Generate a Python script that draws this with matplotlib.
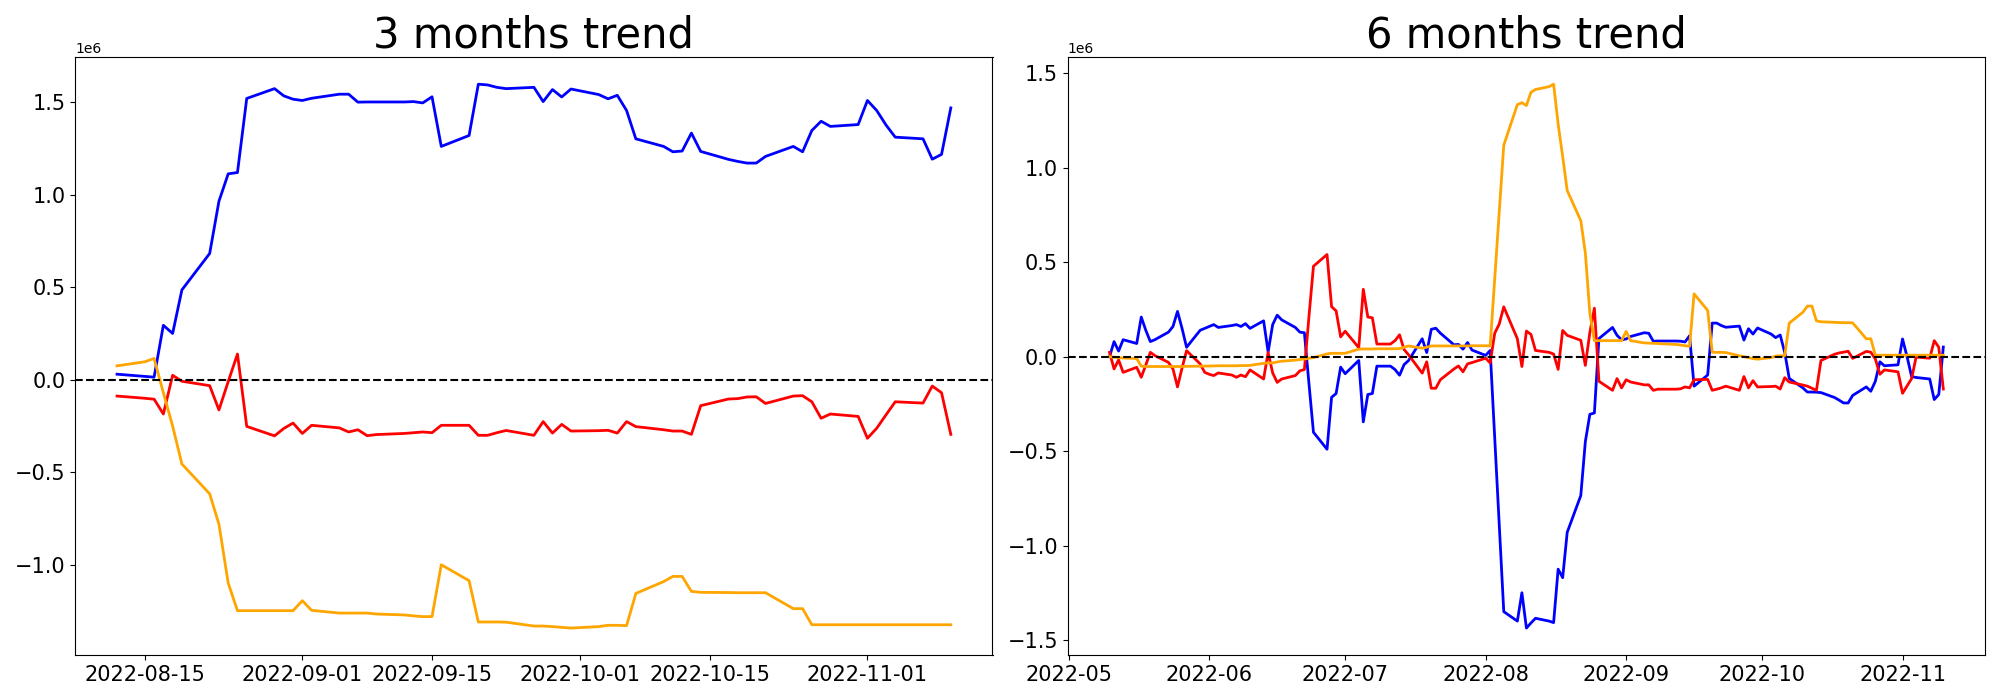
import matplotlib

matplotlib.use("Agg")
import matplotlib.pyplot as plt
import numpy as np
import pandas as pd

TITLE_SIZE = 30
TICK_SIZE = 15
LW = 2

# ---- 3 months window (values in millions), one row per trading week ----
dates_3m = pd.bdate_range("2022-08-12", "2022-11-10")
blue_3m = [
    0.030,
    0.018, 0.014, 0.294, 0.250, 0.485,
    0.682, 0.964, 1.112, 1.119, 1.519,
    1.572, 1.533, 1.515, 1.508, 1.520,
    1.542, 1.542, 1.499, 1.500, 1.500,
    1.500, 1.502, 1.495, 1.528, 1.260,
    1.319, 1.596, 1.592, 1.579, 1.572,
    1.579, 1.502, 1.567, 1.527, 1.570,
    1.540, 1.517, 1.536, 1.454, 1.301,
    1.260, 1.231, 1.235, 1.332, 1.233,
    1.190, 1.179, 1.170, 1.170, 1.206,
    1.260, 1.231, 1.346, 1.396, 1.368,
    1.378, 1.508, 1.454, 1.376, 1.310,
    1.301, 1.191, 1.217, 1.468,
]
red_3m = [
    -0.088,
    -0.100, -0.105, -0.185, 0.024, -0.008,
    -0.032, -0.163, -0.010, 0.139, -0.252,
    -0.303, -0.263, -0.234, -0.290, -0.246,
    -0.260, -0.282, -0.270, -0.302, -0.296,
    -0.290, -0.286, -0.282, -0.286, -0.246,
    -0.246, -0.300, -0.300, -0.286, -0.274,
    -0.300, -0.226, -0.288, -0.241, -0.277,
    -0.275, -0.273, -0.288, -0.226, -0.253,
    -0.270, -0.277, -0.277, -0.295, -0.140,
    -0.104, -0.102, -0.093, -0.092, -0.128,
    -0.088, -0.086, -0.119, -0.208, -0.185,
    -0.198, -0.316, -0.262, -0.190, -0.119,
    -0.126, -0.034, -0.070, -0.295,
]
orange_3m = [
    0.075,
    0.097, 0.115, -0.070, -0.250, -0.455,
    -0.616, -0.780, -1.098, -1.247, -1.247,
    -1.247, -1.247, -1.247, -1.193, -1.245,
    -1.260, -1.260, -1.260, -1.260, -1.265,
    -1.270, -1.275, -1.279, -1.279, -0.999,
    -1.085, -1.308, -1.308, -1.308, -1.309,
    -1.330, -1.330, -1.333, -1.337, -1.341,
    -1.333, -1.326, -1.326, -1.328, -1.154,
    -1.090, -1.062, -1.062, -1.143, -1.148,
    -1.149, -1.150, -1.150, -1.150, -1.150,
    -1.236, -1.236, -1.323, -1.323, -1.323,
    -1.323, -1.323, -1.323, -1.323, -1.323,
    -1.323, -1.323, -1.323, -1.323,
]

# ---- 6 months window (values in millions), one row per trading week ----
dates_6m = pd.bdate_range("2022-05-10", "2022-11-10")
blue_6m = [
    0.000, 0.080, 0.030, 0.090,
    0.070, 0.210, 0.140, 0.080, 0.090,
    0.130, 0.160, 0.240, 0.150, 0.050,
    0.140, 0.150, 0.160, 0.170, 0.155,
    0.165, 0.170, 0.160, 0.175, 0.150,
    0.190, 0.025, 0.170, 0.220, 0.195,
    0.155, 0.130, 0.127, -0.140, -0.400,
    -0.490, -0.215, -0.195, -0.055, -0.090,
    -0.020, -0.345, -0.200, -0.195, -0.050,
    -0.050, -0.068, -0.098, -0.042, -0.020,
    0.095, 0.022, 0.145, 0.151, 0.125,
    0.063, 0.065, 0.040, 0.075, 0.035,
    0.007, 0.033, -0.430, -0.890, -1.350,
    -1.400, -1.250, -1.437, -1.410, -1.385,
    -1.400, -1.408, -1.125, -1.170, -0.930,
    -0.735, -0.450, -0.305, -0.298, 0.096,
    0.155, 0.113, 0.090, 0.094, 0.107,
    0.127, 0.124, 0.082, 0.083, 0.083,
    0.083, 0.082, 0.078, 0.111, -0.156,
    -0.097, 0.178, 0.178, 0.165, 0.156,
    0.162, 0.088, 0.148, 0.120, 0.152,
    0.120, 0.101, 0.115, 0.023, -0.115,
    -0.165, -0.187, -0.187, -0.188, -0.190,
    -0.216, -0.230, -0.245, -0.245, -0.205,
    -0.160, -0.183, -0.130, -0.027, -0.048,
    -0.043, 0.094, 0.000, -0.105, -0.110,
    -0.118, -0.227, -0.200, 0.051,
]
red_6m = [
    0.023, -0.065, -0.017, -0.083,
    -0.056, -0.109, -0.044, 0.023, 0.006,
    -0.030, -0.065, -0.160, -0.060, 0.032,
    -0.038, -0.083, -0.093, -0.100, -0.086,
    -0.097, -0.109, -0.097, -0.106, -0.070,
    -0.118, 0.023, -0.086, -0.136, -0.118,
    -0.100, -0.075, -0.068, 0.210, 0.479,
    0.541, 0.265, 0.243, 0.105, 0.135,
    0.048, 0.357, 0.210, 0.206, 0.067,
    0.067, 0.085, 0.116, 0.038, 0.010,
    -0.087, -0.027, -0.167, -0.167, -0.122,
    -0.065, -0.049, -0.080, -0.038, -0.031,
    -0.008, -0.033, 0.124, 0.173, 0.264,
    0.095, -0.052, 0.136, 0.118, 0.033,
    0.023, 0.014, -0.067, 0.139, 0.113,
    0.087, -0.046, 0.129, 0.257, -0.130,
    -0.178, -0.116, -0.165, -0.122, -0.134,
    -0.149, -0.149, -0.178, -0.172, -0.172,
    -0.172, -0.170, -0.160, -0.165, -0.122,
    -0.120, -0.178, -0.172, -0.165, -0.156,
    -0.178, -0.105, -0.165, -0.127, -0.160,
    -0.158, -0.156, -0.171, -0.111, -0.134,
    -0.150, -0.156, -0.167, -0.178, -0.020,
    0.013, 0.020, 0.024, 0.029, -0.009,
    0.028, 0.024, -0.012, -0.093, -0.070,
    -0.080, -0.194, -0.155, -0.116, -0.002,
    -0.008, 0.085, 0.050, -0.171,
]
orange_6m = [
    0.000, -0.003, -0.005, -0.007,
    -0.010, -0.050, -0.052, -0.052, -0.052,
    -0.052, -0.052, -0.052, -0.052, -0.051,
    -0.050, -0.050, -0.049, -0.049, -0.048,
    -0.048, -0.048, -0.047, -0.047, -0.046,
    -0.035, -0.033, -0.033, -0.028, -0.024,
    -0.018, -0.015, -0.012, -0.008, -0.005,
    0.015, 0.018, 0.018, 0.018, 0.018,
    0.040, 0.041, 0.041, 0.041, 0.042,
    0.042, 0.042, 0.043, 0.050, 0.057,
    0.045, 0.050, 0.057, 0.057, 0.057,
    0.057, 0.057, 0.057, 0.057, 0.058,
    0.058, 0.057, 0.410, 0.770, 1.120,
    1.335, 1.345, 1.330, 1.400, 1.415,
    1.430, 1.443, 1.232, 1.060, 0.880,
    0.720, 0.550, 0.230, 0.085, 0.085,
    0.085, 0.085, 0.085, 0.134, 0.085,
    0.073, 0.072, 0.071, 0.070, 0.068,
    0.065, 0.062, 0.058, 0.055, 0.333,
    0.245, 0.024, 0.023, 0.023, 0.022,
    0.005, 0.000, -0.005, -0.010, -0.013,
    -0.005, 0.003, 0.005, 0.005, 0.178,
    0.235, 0.268, 0.268, 0.190, 0.185,
    0.182, 0.181, 0.180, 0.180, 0.179,
    0.095, 0.095, 0.008, 0.008, 0.008,
    0.008, 0.008, 0.008, 0.008, 0.008,
    0.008, 0.008, 0.008, 0.008,
]


def draw_panel(ax, dates, blue, red, orange, title):
    x = dates.to_pydatetime()
    ax.plot(x, np.array(blue) * 1e6, color="blue", linewidth=LW)
    ax.plot(x, np.array(red) * 1e6, color="red", linewidth=LW)
    ax.plot(x, np.array(orange) * 1e6, color="orange", linewidth=LW)
    ax.axhline(0, color="black", linestyle="--")
    ax.set_title(title, fontsize=TITLE_SIZE)
    ax.tick_params(axis="both", labelsize=TICK_SIZE)


fig, (ax1, ax2) = plt.subplots(1, 2, figsize=(20, 7))
draw_panel(ax1, dates_3m, blue_3m, red_3m, orange_3m, "3 months trend")
draw_panel(ax2, dates_6m, blue_6m, red_6m, orange_6m, "6 months trend")

fig.tight_layout()
fig.savefig("out.png", dpi=100)
plt.close(fig)
